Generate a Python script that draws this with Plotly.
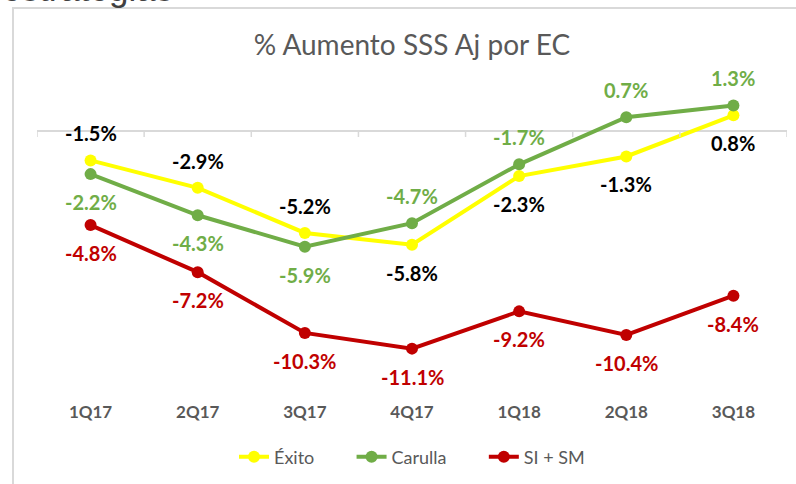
import plotly.graph_objects as go

categories = ["1Q17", "2Q17", "3Q17", "4Q17", "1Q18", "2Q18", "3Q18"]
exito = [-1.5, -2.9, -5.2, -5.8, -2.3, -1.3, 0.8]
carulla = [-2.2, -4.3, -5.9, -4.7, -1.7, 0.7, 1.3]
si_sm = [-4.8, -7.2, -10.3, -11.1, -9.2, -10.4, -8.4]

exito_label_side = ["above", "above", "above", "below", "below", "below", "below"]
carulla_label_side = ["below", "below", "below", "above", "above", "above", "above"]
si_sm_label_side = ["below"] * 7

FONT = "Lato"
GREY = "#595959"
PAD = "\u00a0" * 7

series = [
    ("Éxito", PAD, exito, "#FFFF00", "#000000", exito_label_side),
    ("Carulla", PAD, carulla, "#70AD47", "#70AD47", carulla_label_side),
    ("SI + SM", "", si_sm, "#C00000", "#C00000", si_sm_label_side),
]

fig = go.Figure()
annotations = []
for name, pad, vals, color, lab_color, sides in series:
    fig.add_trace(go.Scatter(
        x=categories, y=vals, name=name + pad, mode="lines+markers",
        line=dict(color=color, width=4),
        marker=dict(color=color, size=12),
        hoverinfo="skip",
    ))
    for c, v, s in zip(categories, vals, sides):
        annotations.append(dict(
            x=c, y=v, xref="x", yref="y", text=f"{v:.1f}%", showarrow=False,
            yshift=27 if s == "above" else -28,
            font=dict(family=FONT, size=20, color=lab_color, weight="bold"),
        ))

# partially visible slide text above the chart
annotations.append(dict(
    x=-0.0493, y=1.218, xref="paper", yref="paper", xanchor="left", yanchor="bottom",
    text="estrategias", showarrow=False,
    font=dict(family="Liberation Sans", size=35, color="#404040"),
))

shapes = []
# category boundary ticks on the zero axis line
for i in range(len(categories) + 1):
    shapes.append(dict(
        type="line", xref="x", yref="y", x0=i - 0.5, x1=i - 0.5,
        ysizemode="pixel", yanchor=0, y0=0, y1=-6,
        line=dict(color="#D9D9D9", width=1.5),
    ))
# chart border
shapes.append(dict(
    type="rect", xref="paper", yref="paper", x0=-0.032, x1=1.05, y0=-0.5, y1=1.225,
    line=dict(color="#D9D9D9", width=2), layer="below",
))

fig.update_layout(
    width=796, height=484,
    margin=dict(l=37, r=9, t=80, b=84, autoexpand=False),
    paper_bgcolor="white", plot_bgcolor="white",
    title=dict(
        text="% Aumento SSS Aj por EC", x=0.5, xref="paper", xanchor="center",
        y=1 - 45 / 484, yref="container", yanchor="middle",
        font=dict(family=FONT, size=28, color=GREY),
    ),
    xaxis=dict(
        type="category", range=[-0.5, 6.5], showgrid=False, showline=False,
        ticks="", tickfont=dict(family=FONT, size=17, color=GREY, weight="bold"),
        fixedrange=True, automargin=False,
    ),
    yaxis=dict(
        range=[-13.72, 2.60], showgrid=False, showticklabels=False,
        zeroline=True, zerolinecolor="#D9D9D9", zerolinewidth=1.5, showline=False,
        fixedrange=True, automargin=False,
    ),
    legend=dict(
        orientation="h", x=0.5, xanchor="center", y=-0.178, yanchor="middle",
        font=dict(family=FONT, size=18, color=GREY), bgcolor="rgba(0,0,0,0)",
        itemclick=False, itemdoubleclick=False,
    ),
    annotations=annotations,
    shapes=shapes,
    showlegend=True,
)

fig.write_html(
    "out.html",
    config={"displayModeBar": False},
    post_script="document.body.style.margin='0';document.body.style.overflow='hidden';",
)
